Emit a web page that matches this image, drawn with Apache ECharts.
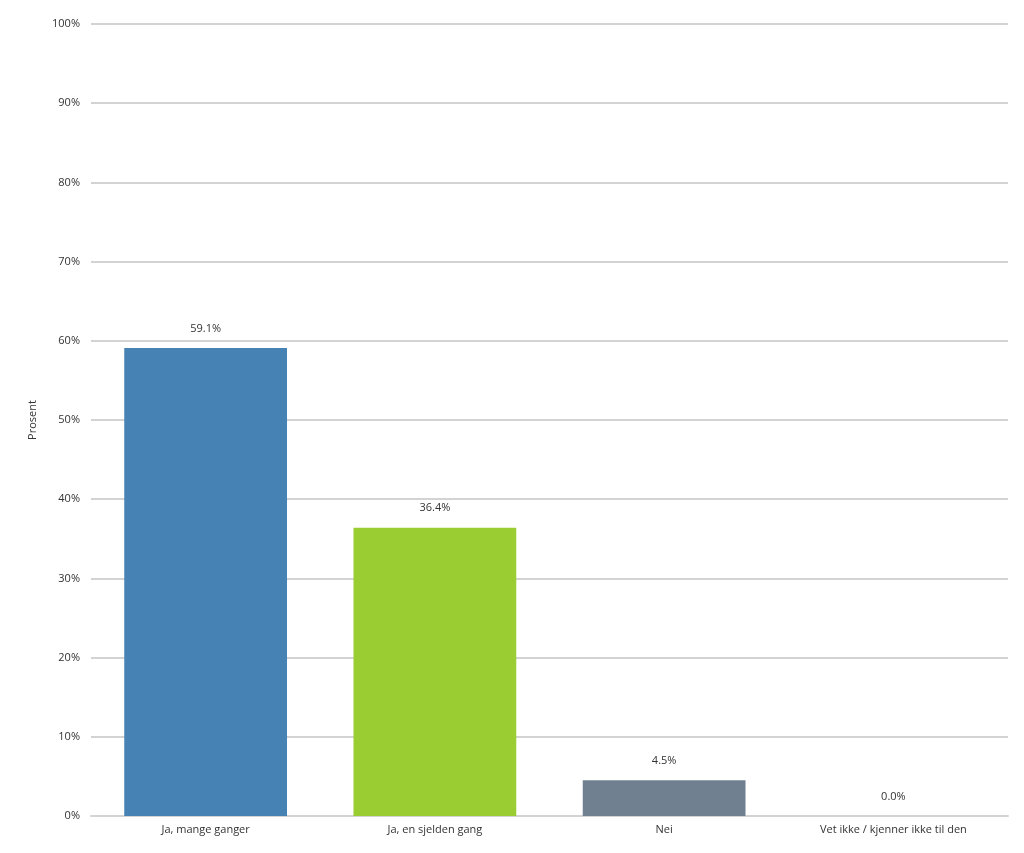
<!DOCTYPE html>
<html><head><meta charset="utf-8">
<script src="https://cdn.jsdelivr.net/npm/echarts@6/dist/echarts.min.js"></script>
<style>html,body{margin:0;padding:0;background:#fff}#c{width:1024px;height:853px}</style>
</head><body><div id="c"></div>
<script>
const categories = ['Ja, mange ganger', 'Ja, en sjelden gang', 'Nei', 'Vet ikke / kjenner ikke til den'];
const values = [59.1, 36.4, 4.5, 0.0];
const barColors = ['#4682B4', '#9ACD32', '#708090', '#4682B4'];
const yTicks = [0, 10, 20, 30, 40, 50, 60, 70, 80, 90, 100];

const chart = echarts.init(document.getElementById('c'));
const font = 'Segoe UI, "Open Sans", "DejaVu Sans", sans-serif';
chart.setOption({
  animation: false,
  grid: { left: 91, right: 16, top: 24, bottom: 37, containLabel: false },
  xAxis: {
    type: 'category', data: categories,
    axisLine: { show: true, lineStyle: { color: '#d3d3d3', width: 2 } },
    axisTick: { show: false },
    axisLabel: { color: '#333', fontSize: 11, fontFamily: font, margin: 8 }
  },
  yAxis: {
    type: 'value', min: 0, max: 100, interval: 10,
    name: 'Prosent', nameLocation: 'middle', nameGap: 53, nameRotate: 90,
    nameTextStyle: { color: '#333', fontSize: 11, fontFamily: font },
    axisLine: { show: false }, axisTick: { show: false },
    axisLabel: { color: '#333', fontSize: 11, fontFamily: font, margin: 11,
      formatter: v => yTicks.includes(v) ? v + '%' : '' },
    splitLine: { lineStyle: { color: '#d3d3d3', width: 2 } }
  },
  series: [{
    type: 'bar', barWidth: '71%',
    data: values.map((v, i) => ({ value: v, itemStyle: { color: barColors[i] } })),
    label: { show: true, position: 'top', distance: 14, color: '#333', fontSize: 11, fontFamily: font,
      formatter: p => p.value.toFixed(1) + '%' }
  }]
});
</script></body></html>
